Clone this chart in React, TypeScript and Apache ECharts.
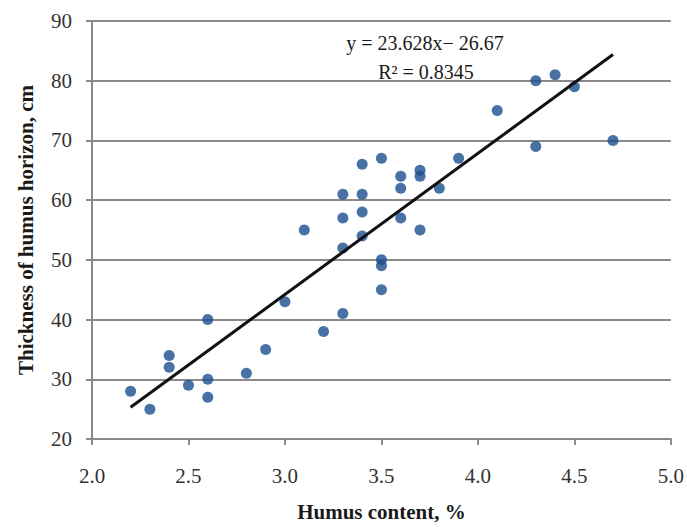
import React, { useEffect, useRef } from "react";
import * as echarts from "echarts";

const humus: number[] = [2.2, 2.3, 2.4, 2.4, 2.5, 2.6, 2.6, 2.6, 2.8, 2.9, 3.0, 3.1, 3.2, 3.3, 3.3, 3.3, 3.3, 3.4, 3.4, 3.4, 3.4, 3.5, 3.5, 3.5, 3.5, 3.6, 3.6, 3.6, 3.7, 3.7, 3.7, 3.8, 3.9, 4.1, 4.3, 4.3, 4.4, 4.5, 4.7];
const thickness: number[] = [28, 25, 34, 32, 29, 40, 30, 27, 31, 35, 43, 55, 38, 61, 57, 52, 41, 66, 61, 58, 54, 67, 50, 49, 45, 64, 62, 57, 65, 64, 55, 62, 67, 75, 80, 69, 81, 79, 70];
const trendX: number[] = [2.2, 4.7];
const trendY: number[] = [25.31, 84.38];
const equationText = "y = 23.628x\u2212 26.67";
const r2Text = "R\u00b2 = 0.8345";
const xTicks = { min: 2.0, max: 5.0, interval: 0.5 };
const yTicks = { min: 20, max: 90, interval: 10 };

const FONT = "'Liberation Serif', 'Times New Roman', serif";

export default function App() {
  const ref = useRef<HTMLDivElement>(null);
  useEffect(() => {
    if (!ref.current) return;
    const chart = echarts.init(ref.current, undefined, { renderer: "svg" });
    const points = humus.map((x, i) => [x, thickness[i]]);
    const trend = trendX.map((x, i) => [x, trendY[i]]);
    chart.setOption({
      animation: false,
      backgroundColor: "#ffffff",
      grid: { left: 92, right: 14, top: 21, bottom: 87, containLabel: false },
      xAxis: {
        type: "value",
        min: xTicks.min,
        max: xTicks.max,
        interval: xTicks.interval,
        name: "Humus content, %",
        nameLocation: "middle",
        nameGap: 62,
        nameTextStyle: { fontFamily: FONT, fontWeight: "bold", fontSize: 21, color: "#1a1a1a" },
        axisLine: { show: true, lineStyle: { color: "#8a8a8a", width: 2 } },
        axisTick: { show: true, length: 6, lineStyle: { color: "#8a8a8a", width: 2 } },
        axisLabel: {
          fontFamily: FONT,
          fontSize: 21,
          color: "#333333",
          margin: 26,
          formatter: (v: number) => v.toFixed(1),
        },
        splitLine: { show: false },
      },
      yAxis: {
        type: "value",
        min: yTicks.min,
        max: yTicks.max,
        interval: yTicks.interval,
        name: "Thickness of humus horizon, cm",
        nameLocation: "middle",
        nameGap: 56,
        nameRotate: 90,
        nameTextStyle: { fontFamily: FONT, fontWeight: "bold", fontSize: 21, color: "#1a1a1a" },
        axisLine: { show: true, lineStyle: { color: "#8a8a8a", width: 2 } },
        axisTick: { show: true, length: 6, lineStyle: { color: "#8a8a8a", width: 2 } },
        axisLabel: { fontFamily: FONT, fontSize: 21, color: "#333333", margin: 20 },
        splitLine: { show: true, lineStyle: { color: "#8a8a8a", width: 2 } },
      },
      graphic: [
        {
          type: "text",
          x: 425,
          y: 43,
          style: {
            text: equationText,
            font: `20px ${FONT}`,
            fill: "#1a1a1a",
            textAlign: "center",
            textVerticalAlign: "middle",
          },
        },
        {
          type: "text",
          x: 426,
          y: 72,
          style: {
            text: r2Text,
            font: `20px ${FONT}`,
            fill: "#1a1a1a",
            textAlign: "center",
            textVerticalAlign: "middle",
          },
        },
      ],
      series: [
        {
          type: "scatter",
          data: points,
          symbol: "circle",
          symbolSize: 11,
          itemStyle: { color: "#1a4f8e" },
          z: 3,
        },
        {
          type: "line",
          data: trend,
          symbol: "none",
          lineStyle: { color: "#111111", width: 3 },
          z: 4,
        },
      ],
    });
    return () => chart.dispose();
  }, []);
  return (
    <div
      ref={ref}
      style={{ position: "absolute", left: 0, top: 0, width: 687, height: 527 }}
    />
  );
}
